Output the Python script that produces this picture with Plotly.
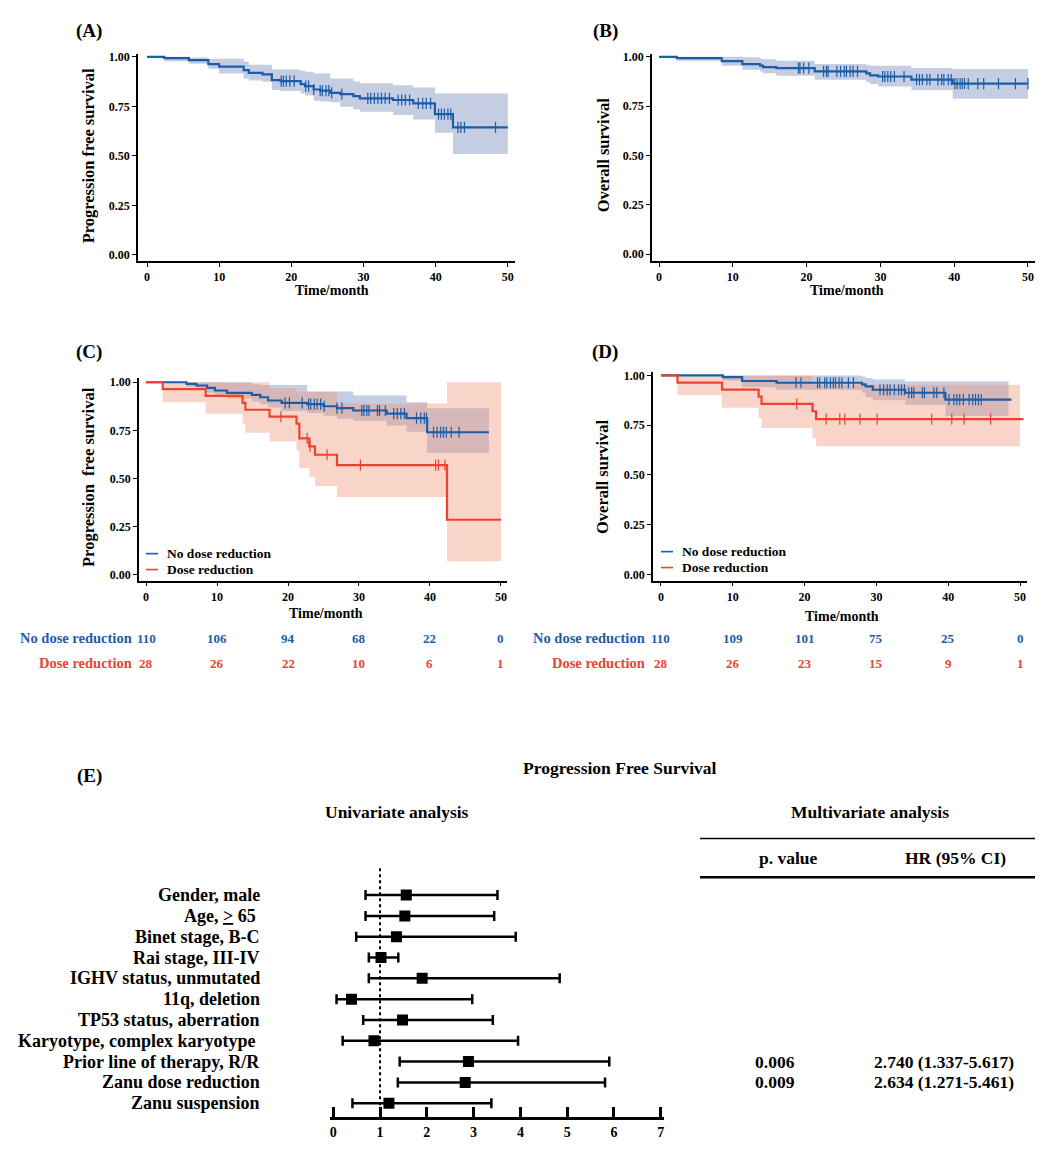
import plotly.graph_objects as go

W, H = 1048, 1162          # target page size
OFF = 8                    # default body margin of the html page
FW, FH = W - 2 * OFF, H - 2 * OFF
FONT = "Liberation Serif, Times New Roman, serif"
BLUE = "#1B5DA9"
RED = "#EF4130"
BLUE_BAND = "rgba(140,155,200,0.5)"
RED_BAND = "rgba(240,150,120,0.4)"

# ---------------- data ----------------
# (A) PFS overall
A_t = [0, 2.4, 5.8, 8.5, 10.0, 13.4, 14.1, 16.0, 17.3, 18.5, 21.3, 21.9, 23.1, 24.0, 25.4, 26.8, 28.6, 29.5, 34.1, 36.9, 39.9, 42.4]
A_s = [1.0, 0.993, 0.983, 0.963, 0.950, 0.933, 0.919, 0.911, 0.882, 0.877, 0.862, 0.852, 0.835, 0.829, 0.818, 0.812, 0.802, 0.790, 0.782, 0.765, 0.711, 0.644]
A_up = [1.0, 1.0, 0.997, 0.99, 0.99, 0.975, 0.96, 0.96, 0.936, 0.936, 0.93, 0.925, 0.916, 0.916, 0.89, 0.89, 0.875, 0.866, 0.857, 0.845, 0.815, 0.815]
A_lo = [1.0, 0.978, 0.965, 0.94, 0.916, 0.89, 0.88, 0.874, 0.832, 0.828, 0.815, 0.805, 0.778, 0.775, 0.77, 0.748, 0.735, 0.723, 0.706, 0.684, 0.617, 0.509]
A_end = 50
A_cens = [18.6, 18.9, 19.3, 19.8, 20.4, 22.0, 22.4, 23.1, 24.0, 24.3, 24.8, 25.2, 25.6, 27.0, 30.6, 31.0, 31.5, 32.0,
          32.5, 33.0, 33.6, 34.8, 35.3, 35.8, 36.4, 37.6, 38.2, 38.7, 39.3, 40.4, 40.8, 41.2, 41.7, 42.1, 43.1, 43.5, 44.0, 48.3]

# (B) OS overall
B_t = [0, 2.4, 8.5, 11.3, 13.7, 14.1, 15.9, 21.1, 28.1, 28.6, 29.7, 34.2, 39.8]
B_s = [1.0, 0.993, 0.978, 0.963, 0.955, 0.948, 0.942, 0.926, 0.916, 0.906, 0.9, 0.884, 0.864]
B_up = [1.0, 1.0, 1.0, 0.997, 0.99, 0.988, 0.98, 0.963, 0.958, 0.955, 0.955, 0.943, 0.938]
B_lo = [1.0, 0.98, 0.955, 0.934, 0.925, 0.916, 0.904, 0.884, 0.872, 0.862, 0.849, 0.83, 0.787]
B_end = 50
B_cens = [18.9, 19.1, 19.6, 20.3, 22.3, 22.7, 22.9, 24.1, 24.6, 25.1, 25.4, 25.9, 26.3, 26.9, 30.3, 30.6, 31.0, 31.4,
          31.9, 33.2, 34.9, 35.3, 35.7, 36.3, 36.7, 37.8, 38.3, 38.6, 39.2, 39.6, 40.1, 40.4, 40.8, 41.1, 41.4, 41.9,
          43.2, 44.0, 46.0, 48.3, 50.0]

# (C) PFS by dose reduction
C_no_t = [0, 5.7, 7.1, 8.6, 9.7, 11.4, 14.9, 16.1, 17.2, 19.1, 22.7, 25.0, 26.9, 29.2, 33.9, 36.7, 39.6]
C_no_s = [1.0, 0.991, 0.983, 0.971, 0.957, 0.945, 0.934, 0.922, 0.905, 0.893, 0.886, 0.875, 0.865, 0.853, 0.837, 0.813, 0.74]
C_no_up = [1.0, 1.0, 1.0, 1.0, 1.0, 0.998, 0.99, 0.986, 0.986, 0.986, 0.952, 0.952, 0.952, 0.931, 0.931, 0.896, 0.865]
C_no_lo = [1.0, 0.975, 0.96, 0.945, 0.93, 0.915, 0.9, 0.885, 0.868, 0.85, 0.84, 0.826, 0.81, 0.8, 0.775, 0.742, 0.633]
C_no_end = 48.3
C_no_cens = [19.6, 20.2, 22.0, 22.9, 23.2, 23.7, 24.1, 24.6, 25.1, 26.9, 27.6, 30.4, 30.7, 31.1, 31.4, 32.6, 32.9, 33.7,
             34.9, 35.4, 35.9, 36.4, 38.1, 38.7, 39.2, 39.5, 40.5, 41.0, 41.5, 41.9, 42.3, 43.0, 44.1]
C_dr_t = [0, 2.35, 8.4, 13.6, 14.0, 17.4, 21.2, 21.6, 23.0, 23.8, 26.9, 42.4]
C_dr_s = [1.0, 0.964, 0.929, 0.893, 0.857, 0.821, 0.784, 0.708, 0.666, 0.623, 0.569, 0.285]
C_dr_up = [1.0, 1.0, 1.0, 1.0, 1.0, 0.97, 0.95, 0.95, 0.95, 0.95, 0.89, 1.0]
C_dr_lo = [1.0, 0.896, 0.836, 0.784, 0.737, 0.692, 0.645, 0.554, 0.507, 0.46, 0.403, 0.069]
C_dr_end = 50
C_dr_cens = [19.0, 22.7, 23.1, 25.5, 30.2, 40.8, 41.2, 42.1]

# (D) OS by dose reduction
D_no_t = [0, 8.6, 11.3, 16.1, 28.0, 28.5, 29.5, 34.0, 39.6]
D_no_s = [1.0, 0.991, 0.972, 0.963, 0.955, 0.945, 0.928, 0.913, 0.878]
D_no_up = [1.0, 1.0, 1.0, 1.0, 0.995, 0.987, 0.98, 0.97, 0.97]
D_no_lo = [1.0, 0.975, 0.94, 0.928, 0.913, 0.891, 0.875, 0.853, 0.796]
D_no_end = 48.8
D_no_cens = [18.8, 19.5, 21.8, 22.1, 22.8, 23.1, 23.6, 24.0, 24.3, 24.8, 25.2, 26.1, 26.8, 30.5, 31.0, 31.5, 31.9, 32.5,
             33.1, 33.5, 33.9, 34.5, 34.9, 35.2, 36.4, 36.7, 38.0, 38.4, 39.4, 40.1, 40.8, 41.2, 41.6, 42.1, 42.9, 43.4,
             43.8, 44.2, 44.6]
D_dr_t = [0, 2.3, 8.5, 13.6, 14.0, 21.1, 21.6]
D_dr_s = [1.0, 0.964, 0.929, 0.893, 0.857, 0.82, 0.78]
D_dr_up = [1.0, 1.0, 1.0, 1.0, 1.0, 0.953, 0.953]
D_dr_lo = [1.0, 0.9, 0.838, 0.786, 0.736, 0.686, 0.644]
D_dr_end = 50.5
D_dr_cens = [18.9, 23.0, 24.9, 25.6, 27.7, 30.1, 37.7, 40.5, 42.2, 45.9]

# risk tables
risk_times = [0, 10, 20, 30, 40, 50]
C_risk_no = [110, 106, 94, 68, 22, 0]
C_risk_dr = [28, 26, 22, 10, 6, 1]
D_risk_no = [110, 109, 101, 75, 25, 0]
D_risk_dr = [28, 26, 23, 15, 9, 1]

# (E) forest plot
forest_labels = ["Gender, male", "Age, <u>></u> 65 ", "Binet stage, B-C", "Rai stage, III-IV", "IGHV status, unmutated",
                 "11q, deletion", "TP53 status, aberration", "Karyotype, complex karyotype ",
                 "Prior line of therapy, R/R", "Zanu dose reduction", "Zanu suspension"]
forest_hr = [1.56, 1.53, 1.35, 1.02, 1.90, 0.39, 1.48, 0.87, 2.89, 2.82, 1.19]
forest_lo = [0.69, 0.69, 0.49, 0.76, 0.76, 0.07, 0.64, 0.20, 1.42, 1.38, 0.41]
forest_hi = [3.51, 3.44, 3.90, 1.39, 4.84, 2.97, 3.41, 3.95, 5.90, 5.81, 3.38]
multi_rows = ["Prior line of therapy, R/R", "Zanu dose reduction"]
multi_p = ["0.006", "0.009"]
multi_hr = ["2.740 (1.337-5.617)", "2.634 (1.271-5.461)"]

# ---------------- helpers ----------------
def px(p):
    return (p - OFF) / FW

def py(p):
    return 1 - (p - OFF) / FH

def surv_at(t, s, c):
    v = s[0]
    for ti, si in zip(t, s):
        if ti <= c:
            v = si
    return v

fig = go.Figure()

def add_km(n, t, s, up, lo, end, cens, color, band, band_end=None):
    xa = "x" if n == 1 else f"x{n}"
    ya = "y" if n == 1 else f"y{n}"
    be = end if band_end is None else band_end
    bx = list(t) + [be]
    fig.add_trace(go.Scatter(x=bx, y=list(up) + [up[-1]], mode="lines", line=dict(width=0, shape="hv"),
                             xaxis=xa, yaxis=ya, showlegend=False, hoverinfo="skip"))
    fig.add_trace(go.Scatter(x=bx, y=list(lo) + [lo[-1]], mode="lines", line=dict(width=0, shape="hv"),
                             fill="tonexty", fillcolor=band, xaxis=xa, yaxis=ya, showlegend=False, hoverinfo="skip"))
    return (xa, ya, t, s, end, cens, color)

def add_line(spec):
    xa, ya, t, s, end, cens, color = spec
    fig.add_trace(go.Scatter(x=list(t) + [end], y=list(s) + [s[-1]], mode="lines",
                             line=dict(color=color, width=2.2, shape="hv"), xaxis=xa, yaxis=ya, showlegend=False))
    fig.add_trace(go.Scatter(x=cens, y=[surv_at(t, s, c) for c in cens], mode="markers",
                             marker=dict(symbol="line-ns-open", size=8, color=color,
                                         line=dict(color=color, width=1.2)),
                             xaxis=xa, yaxis=ya, showlegend=False))

sA = add_km(1, A_t, A_s, A_up, A_lo, A_end, A_cens, BLUE, BLUE_BAND)
sB = add_km(2, B_t, B_s, B_up, B_lo, B_end, B_cens, BLUE, BLUE_BAND)
sC1 = add_km(3, C_no_t, C_no_s, C_no_up, C_no_lo, C_no_end, C_no_cens, BLUE, BLUE_BAND)
sC2 = add_km(3, C_dr_t, C_dr_s, C_dr_up, C_dr_lo, C_dr_end, C_dr_cens, RED, RED_BAND)
sD1 = add_km(4, D_no_t, D_no_s, D_no_up, D_no_lo, D_no_end, D_no_cens, BLUE, BLUE_BAND, band_end=48.4)
sD2 = add_km(4, D_dr_t, D_dr_s, D_dr_up, D_dr_lo, D_dr_end, D_dr_cens, RED, RED_BAND, band_end=50)
for sp in [sA, sB, sC1, sC2, sD1, sD2]:
    add_line(sp)

# forest
fig.add_trace(go.Scatter(
    x=forest_hr, y=list(range(len(forest_hr))), mode="markers",
    marker=dict(symbol="square", size=11, color="black"),
    error_x=dict(type="data", symmetric=False,
                 array=[h - m for h, m in zip(forest_hi, forest_hr)],
                 arrayminus=[m - l for m, l in zip(forest_hr, forest_lo)],
                 thickness=2.5, width=5, color="black"),
    xaxis="x5", yaxis="y5", showlegend=False))

# ---------------- axes ----------------
tickfont = dict(family=FONT, size=12, color="black", weight="bold")

def km_axes(n, xl, xr, yb, yt, xrange, yrange):
    xk = "xaxis" if n == 1 else f"xaxis{n}"
    yk = "yaxis" if n == 1 else f"yaxis{n}"
    xa = "x" if n == 1 else f"x{n}"
    ya = "y" if n == 1 else f"y{n}"
    fig.update_layout(**{
        xk: dict(domain=[px(xl), px(xr)], range=xrange, anchor=ya, showline=True, linecolor="black",
                 linewidth=1.6, ticks="outside", ticklen=4, tickwidth=1.4, tickcolor="black",
                 tickvals=[0, 10, 20, 30, 40, 50], tickfont=tickfont, showgrid=False, zeroline=False),
        yk: dict(domain=[py(yb), py(yt)], range=yrange, anchor=xa, showline=True, linecolor="black",
                 linewidth=1.6, ticks="outside", ticklen=4, tickwidth=1.4, tickcolor="black",
                 tickvals=[0, 0.25, 0.5, 0.75, 1.0], tickformat=".2f", tickfont=tickfont,
                 showgrid=False, zeroline=False),
    })

km_axes(1, 138, 515, 258, 50, [-1.25, 51.0], [-0.03, 1.015])
km_axes(2, 652, 1035, 258, 50, [-0.95, 50.95], [-0.035, 1.015])
km_axes(3, 139, 507, 579, 376, [-0.99, 50.85], [-0.031, 1.02])
km_axes(4, 653, 1027, 579, 370, [-1.11, 50.97], [-0.03, 1.015])

fig.update_layout(
    xaxis5=dict(domain=[px(330), px(664)], range=[-0.07, 7.07], anchor="y5", showline=True, linecolor="black",
                linewidth=2.5, ticks="inside", ticklen=10, tickwidth=2.5, tickcolor="black",
                tickvals=list(range(8)), tickfont=dict(family=FONT, size=14, color="black", weight="bold"),
                showgrid=False, zeroline=False),
    yaxis5=dict(domain=[py(1118), py(868)], range=[10.67, -1.29], anchor="x5", visible=False,
                showgrid=False, zeroline=False),
)

shapes = [dict(type="line", xref="x5", x0=1, x1=1, yref="y5 domain", y0=0, y1=1,
               line=dict(color="black", width=2, dash="dot"))]
shapes.append(dict(type="line", xref="paper", yref="paper", x0=px(700), x1=px(1035), y0=py(838), y1=py(838),
                   line=dict(color="black", width=1.5)))
shapes.append(dict(type="line", xref="paper", yref="paper", x0=px(700), x1=px(1035), y0=py(877), y1=py(877),
                   line=dict(color="black", width=2.5)))

ann = []

def text(x, y, s, size=14, color="black", xanchor="center", angle=0, xref="paper", yref="paper"):
    ann.append(dict(x=x, y=y, xref=xref, yref=yref, text=s, showarrow=False, textangle=angle,
                    xanchor=xanchor, yanchor="middle",
                    font=dict(family=FONT, size=size, color=color, weight="bold")))

# panel labels
for lab, x, y in [("(A)", 89, 27), ("(B)", 605, 27), ("(C)", 89, 349), ("(D)", 605, 349), ("(E)", 89, 775)]:
    text(px(x), py(y), lab, size=19)

# axis titles
text(px(88), py(153), "Progression free survival", size=16.5, angle=-90)
text(px(603), py(152), "Overall survival", size=16.5, angle=-90)
text(px(89), py(475), "Progression  free survival", size=16.5, angle=-90)
text(px(603), py(475), "Overall survival", size=16.5, angle=-90)
text(px(332), py(288), "Time/month", size=14)
text(px(847), py(288), "Time/month", size=14)
text(px(326), py(612), "Time/month", size=14)
text(px(842), py(615), "Time/month", size=14)

# legends (C, D)
for (x0, y1, y2) in [(146, 552, 568), (661, 550, 566)]:
    shapes.append(dict(type="line", xref="paper", yref="paper", x0=px(x0), x1=px(x0 + 12), y0=py(y1), y1=py(y1),
                       line=dict(color=BLUE, width=1.6)))
    shapes.append(dict(type="line", xref="paper", yref="paper", x0=px(x0), x1=px(x0 + 12), y0=py(y2), y1=py(y2),
                       line=dict(color=RED, width=1.6)))
    text(px(x0 + 19), py(y1), "No dose reduction", size=13.5, xanchor="left")
    text(px(x0 + 19), py(y2), "Dose reduction", size=13.5, xanchor="left")

# risk tables
for xa, lab_x, rn, rd in [("x3", 134, C_risk_no, C_risk_dr), ("x4", 647, D_risk_no, D_risk_dr)]:
    text(px(lab_x), py(637), "No dose reduction", size=14.5, color=BLUE, xanchor="right")
    text(px(lab_x), py(662), "Dose reduction", size=14.5, color=RED, xanchor="right")
    for tt, a, b in zip(risk_times, rn, rd):
        ann.append(dict(x=tt, y=py(637), xref=xa, yref="paper", text=str(a), showarrow=False,
                        font=dict(family=FONT, size=13, color=BLUE, weight="bold")))
        ann.append(dict(x=tt, y=py(662), xref=xa, yref="paper", text=str(b), showarrow=False,
                        font=dict(family=FONT, size=13, color=RED, weight="bold")))

# forest headers & labels
text(px(620), py(767), "Progression Free Survival", size=17.5)
text(px(397), py(812), "Univariate analysis", size=17.5)
text(px(870), py(812), "Multivariate analysis", size=17.5)
text(px(788), py(858), "p. value", size=17.5)
text(px(955), py(858), "HR (95% CI)", size=17.5)
for i, lab in enumerate(forest_labels):
    text(px(262), i, lab, size=18, xanchor="right", yref="y5")
for lab, p, hr in zip(multi_rows, multi_p, multi_hr):
    i = forest_labels.index(lab)
    text(px(775), i, p, size=17.5, yref="y5")
    text(px(944), i, hr, size=17.5, yref="y5")

fig.update_layout(width=FW, height=FH, autosize=False, margin=dict(l=0, r=0, t=0, b=0),
                  paper_bgcolor="white", plot_bgcolor="white", annotations=ann, shapes=shapes,
                  font=dict(family=FONT, color="black"))

fig.write_html("out.html")
